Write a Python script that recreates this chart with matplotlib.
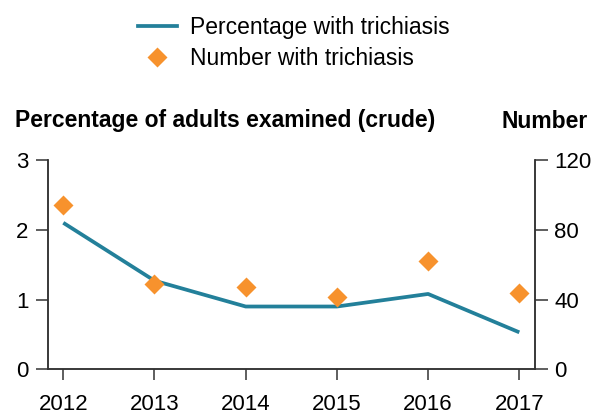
import matplotlib.pyplot as plt
from matplotlib.lines import Line2D

plt.rcParams['font.family'] = ['Liberation Sans', 'DejaVu Sans']

years = [2012, 2013, 2014, 2015, 2016, 2017]
pct_trichiasis = [2.10, 1.27, 0.90, 0.90, 1.08, 0.53]
num_trichiasis = [94, 49, 47, 41.5, 62, 44]

teal = '#23809a'
orange = '#f7922d'
spine_col = '#333333'

fig = plt.figure(figsize=(6, 4.18), dpi=100)
ax = fig.add_axes([47.7 / 600, 0.1165, 487.3 / 600, 0.5007])
ax2 = ax.twinx()

ax.plot(years, pct_trichiasis, color=teal, lw=2.7, solid_capstyle='butt')
ax2.plot(years, num_trichiasis, linestyle='none', marker='D', ms=10.5,
         color=orange, mec='none')

ax.set_xlim(2012 - 0.171, 2017 + 0.172)
ax.set_ylim(0, 3)
ax2.set_ylim(0, 120)
ax.set_yticks([0, 1, 2, 3])
ax2.set_yticks([0, 40, 80, 120])
ax.set_xticks(years)

for a in (ax, ax2):
    a.spines['top'].set_visible(False)
    for s in ('left', 'right', 'bottom'):
        a.spines[s].set_color(spine_col)
        a.spines[s].set_linewidth(1.1)
ax.tick_params(axis='x', length=8, width=1.1, color=spine_col, labelsize=16, pad=10)
ax.tick_params(axis='y', length=9, width=1.1, color=spine_col, labelsize=16, pad=5)
ax2.tick_params(axis='y', length=9, width=1.1, color=spine_col, labelsize=16, pad=5)

fig.text(15 / 600, 1 - 121 / 418, 'Percentage of adults examined (crude)',
         fontsize=16.5, fontweight='bold', va='center', ha='left')
fig.text(588 / 600, 1 - 121 / 418, 'Number',
         fontsize=16.5, fontweight='bold', va='center', ha='right')

handles = [Line2D([], [], color=teal, lw=2.7),
           Line2D([], [], linestyle='none', marker='D', ms=10.5, color=orange, mec='none')]
fig.legend(handles, ['Percentage with trichiasis', 'Number with trichiasis'],
           loc='center left', bbox_to_anchor=(138 / 600, 1 - 43 / 418), frameon=False,
           fontsize=16.5, handlelength=1.7, handletextpad=0.56, labelspacing=0.33,
           borderpad=0, borderaxespad=0)

fig.savefig('out.png', dpi=100)
